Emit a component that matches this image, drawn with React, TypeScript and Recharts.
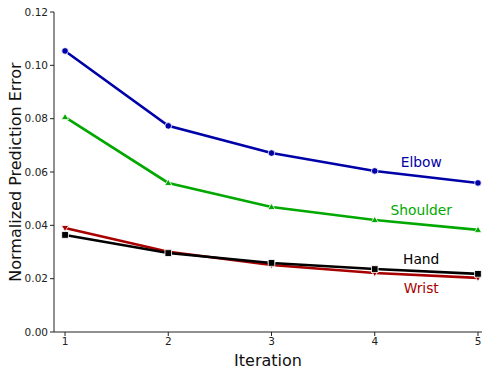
import React from 'react';
import { LineChart, Line, XAxis, YAxis, ReferenceDot } from 'recharts';

const iterations = [1, 2, 3, 4, 5];
const elbow = [0.1054, 0.0773, 0.0671, 0.0604, 0.0559];
const shoulder = [0.0806, 0.0559, 0.0469, 0.042, 0.0383];
const wrist = [0.039, 0.0301, 0.0251, 0.0221, 0.0203];
const hand = [0.0364, 0.0296, 0.0259, 0.0236, 0.0218];
const yTicks = [0, 0.02, 0.04, 0.06, 0.08, 0.1, 0.12];

const data = iterations.map((it, i) => ({
  it,
  elbow: elbow[i],
  shoulder: shoulder[i],
  wrist: wrist[i],
  hand: hand[i],
}));

const FONT = '"DejaVu Sans", sans-serif';
const BLUE = '#0000a8';
const GREEN = '#00a800';
const RED = '#a80000';
const BLACK = '#000000';

const series = [
  { key: 'elbow', name: 'Elbow', color: BLUE, marker: 'circle', lx: 4.45, ly: 0.0638 },
  { key: 'shoulder', name: 'Shoulder', color: GREEN, marker: 'up', lx: 4.45, ly: 0.0458 },
  { key: 'wrist', name: 'Wrist', color: RED, marker: 'down', lx: 4.45, ly: 0.0166 },
  { key: 'hand', name: 'Hand', color: BLACK, marker: 'square', lx: 4.45, ly: 0.0274 },
];

function makeDot(marker: string, color: string) {
  return (props: any) => {
    const { cx, cy, index } = props;
    if (cx == null || cy == null) return <g key={index} />;
    if (marker === 'circle') {
      return <circle key={index} cx={cx} cy={cy} r={3.3} fill={color} stroke="#fff" strokeWidth={0.8} />;
    }
    if (marker === 'square') {
      return (
        <rect key={index} x={cx - 3.3} y={cy - 3.3} width={6.6} height={6.6} fill={color} stroke="#fff" strokeWidth={0.8} />
      );
    }
    const s = 3.6;
    const pts =
      marker === 'up'
        ? `${cx},${cy - s} ${cx - s},${cy + s * 0.7} ${cx + s},${cy + s * 0.7}`
        : `${cx},${cy + s} ${cx - s},${cy - s * 0.7} ${cx + s},${cy - s * 0.7}`;
    return <polygon key={index} points={pts} fill={color} stroke="#fff" strokeWidth={0.8} />;
  };
}

export default function App() {
  return (
    <div style={{ position: 'absolute', left: 0, top: 0, background: '#fff' }}>
      <LineChart width={487} height={370} data={data} margin={{ top: 12, right: 5, bottom: 0, left: 0 }}>
        <XAxis
          dataKey="it"
          type="number"
          domain={[0.893, 5.039]}
          ticks={iterations}
          height={38}
          tickSize={4}
          stroke="#222"
          tick={{ fill: '#222', fontSize: 10.5, fontFamily: FONT }}
          label={{ value: 'Iteration', position: 'insideBottom', offset: 4, fill: '#111', fontSize: 16, fontFamily: FONT }}
        />
        <YAxis
          type="number"
          domain={[0, 0.12]}
          ticks={yTicks}
          width={54}
          tickSize={4}
          stroke="#222"
          tickFormatter={(v: number) => v.toFixed(2)}
          tick={{ fill: '#222', fontSize: 10.5, fontFamily: FONT }}
          label={{
            value: 'Normalized Prediction Error',
            angle: -90,
            position: 'insideLeft',
            offset: 15,
            style: { textAnchor: 'middle' },
            fill: '#111',
            fontSize: 16,
            fontFamily: FONT,
          }}
        />
        {series.map((s) => (
          <Line
            key={s.key}
            dataKey={s.key}
            stroke={s.color}
            strokeWidth={2.6}
            dot={makeDot(s.marker, s.color)}
            activeDot={false}
            isAnimationActive={false}
          />
        ))}
        {series.map((s) => (
          <ReferenceDot
            key={'l' + s.key}
            x={s.lx}
            y={s.ly}
            r={0}
            fill="none"
            stroke="none"
            label={{ value: s.name, position: 'center', fill: s.color, fontSize: 13.8, fontFamily: FONT }}
          />
        ))}
      </LineChart>
    </div>
  );
}
